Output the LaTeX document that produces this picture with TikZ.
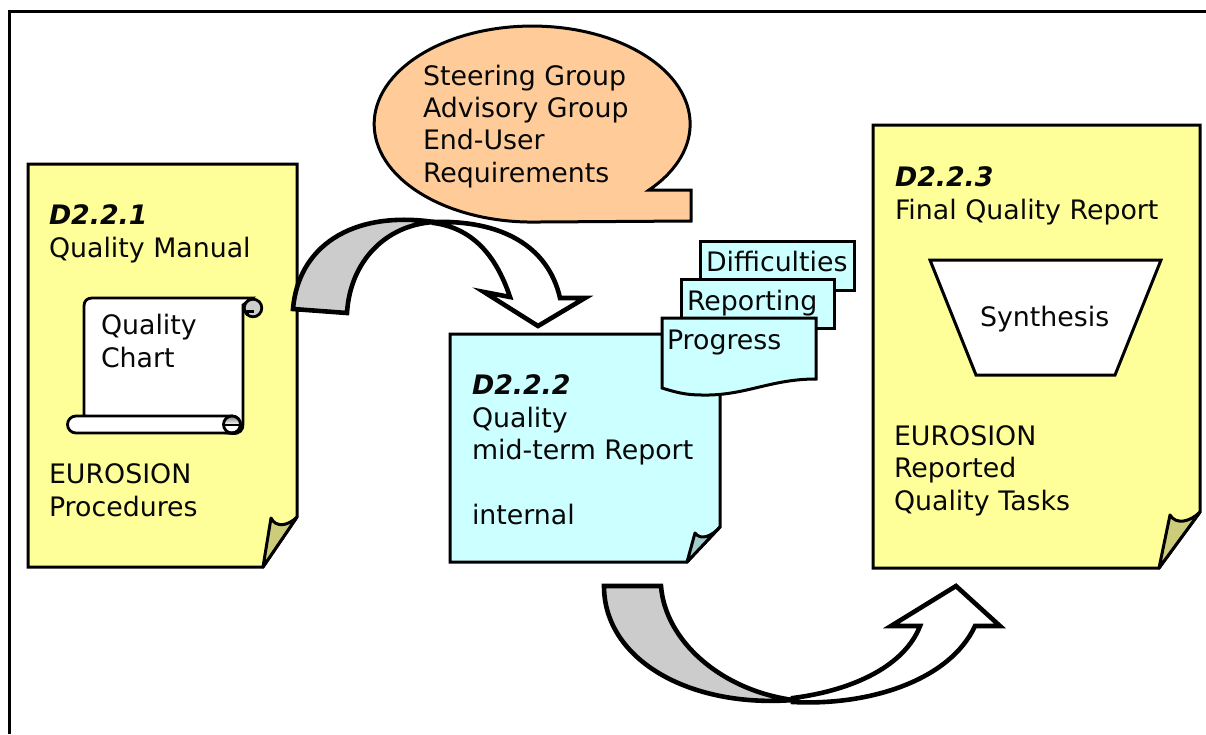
\documentclass[tikz,border=0pt]{standalone}
\usepackage{fontspec}
\setmainfont{DejaVu Sans}
\definecolor{noteyellow}{RGB}{255,255,153}
\definecolor{foldyellow}{RGB}{204,204,122}
\definecolor{notecyan}{RGB}{204,255,255}
\definecolor{foldcyan}{RGB}{163,204,204}
\definecolor{bubble}{RGB}{255,204,153}
\definecolor{shade}{RGB}{204,204,204}
\definecolor{inkc}{RGB}{8,8,8}
\tikzset{
  ln/.style={draw=black,line width=3pt,line join=miter},
  fold/.style={draw=black,line width=3pt,line join=round},
  heavy/.style={draw=black,line width=4.6pt,line join=miter,miter limit=6},
  scrollline/.style={draw=black,line width=2.8pt},
  label text/.style={anchor=base west,inner sep=0pt,outer sep=0pt,align=left,text=inkc,font=\fontsize{26.8}{32.3}\selectfont},
}
\newcommand{\did}[1]{{\bfseries\itshape #1}}
\begin{document}
\begin{tikzpicture}[x=1pt,y=-1pt]
\useasboundingbox (0,0) rectangle (1206,734);
% frame
\coordinate (fa) at (9,734); \coordinate (fb) at (9,11); \coordinate (fc) at (1206,11);
\draw[line width=3pt] (fa) -- (fb) -- (fc);
% note 1
\draw[ln,fill=noteyellow] (28,164) -- (297,164) -- (297,517) -- (263,567) -- (28,567) -- cycle;
\draw[fold,fill=foldyellow] (263,567) -- (271,518) .. controls (276,528) and (288,526) .. (297,517) -- cycle;
% note 3
\draw[ln,fill=noteyellow] (873,125) -- (1200,125) -- (1200,512) -- (1159,568) -- (873,568) -- cycle;
\draw[fold,fill=foldyellow] (1159,568) -- (1170,515) .. controls (1176,525) and (1190,522) .. (1200,512) -- cycle;
% note 2
\draw[ln,fill=notecyan] (450,334) -- (720,334) -- (720,527) -- (687,562) -- (450,562) -- cycle;
\draw[fold,fill=foldcyan] (687,562) -- (695,533) .. controls (701,541) and (712,536) .. (720,527) -- cycle;
% callout
\draw[ln,fill=bubble] (649,190) arc[start angle=42.3,end angle=-270,x radius=158,y radius=98] -- (691,221) -- (691,190) -- cycle;
% arrow 1
\draw[heavy,fill=white] (434,222) .. controls (500,220) and (548,245) .. (560,298) -- (585,298) -- (538,326) -- (484,292) -- (510,297) .. controls (495,252) and (470,228) .. (434,223) -- cycle;
\draw[heavy,fill=shade] (293,309) .. controls (298,248) and (350,210) .. (434,222) .. controls (385,225) and (350,262) .. (347,313) -- cycle;
% arrow 2
\draw[heavy,fill=white] (793,698) .. controls (855,690) and (905,665) .. (920,626) -- (891,626) -- (956,586) -- (1000,626) -- (975,626) .. controls (950,680) and (870,706) .. (793,702) -- cycle;
\draw[heavy,fill=shade] (604,586) -- (661,586) .. controls (665,640) and (720,690) .. (793,700) .. controls (690,708) and (604,660) .. (604,586) -- cycle;
% scroll
\draw[scrollline,fill=white] (84,416) -- (84,306) .. controls (84,301) and (87,298) .. (92,298) -- (252,298) -- (243,305) -- (243,424) .. controls (243,430) and (240,434) .. (232,433.5) -- cycle;
\draw[scrollline,fill=shade] (253,308) circle[radius=8.8];
\draw[line width=2.2pt] (247.5,316) -- (247.5,311.5) -- (254,311.5);
\draw[scrollline,fill=white] (76,416) -- (232,416) arc[start angle=-90,end angle=90,radius=8.5] -- (76,433) arc[start angle=90,end angle=270,radius=8.5] -- cycle;
\fill[shade] (240.5,424.5) arc[start angle=0,end angle=-180,radius=8.5] -- cycle;
\draw[scrollline] (232,424.5) circle[radius=8.5];
\draw[line width=2.2pt] (224,425) -- (239,425);
% stacked pages
\draw[ln,fill=notecyan] (700,241) rectangle (854,290);
\draw[ln,fill=notecyan] (681,279) rectangle (834,328);
\draw[ln,fill=notecyan] (662,318) -- (816,318) -- (816,379) .. controls (770,379) and (745,396) .. (702,395) .. controls (685,395) and (675,392) .. (662,388) -- cycle;
% trapezoid
\draw[ln,fill=white] (930,260) -- (1161,260) -- (1115,375) -- (976,375) -- cycle;
% texts
\node[label text] (t1) at (49,257) {\did{D2.2.1}\\Quality Manual};
\node[label text] (t2) at (101,367) {Quality\\Chart};
\node[label text] (t3) at (49,516) {EUROSION\\Procedures};
\node[label text] (t4) at (423,182) {Steering Group\\Advisory Group\\End-User\\Requirements};
\node[label text] (t5) at (472,524) {\did{D2.2.2}\\Quality\\mid-term Report\\[32.3pt]internal};
\node[label text] (t6) at (706,271) {Difficulties};
\node[label text] (t7) at (687,310) {Reporting};
\node[label text] (t8) at (667,349) {Progress};
\node[label text] (t9) at (895,219) {\did{D2.2.3}\\Final Quality Report};
\node[label text] (t10) at (980,326) {Synthesis};
\node[label text] (t11) at (894,510) {EUROSION\\Reported\\Quality Tasks};
\end{tikzpicture}
\end{document}
